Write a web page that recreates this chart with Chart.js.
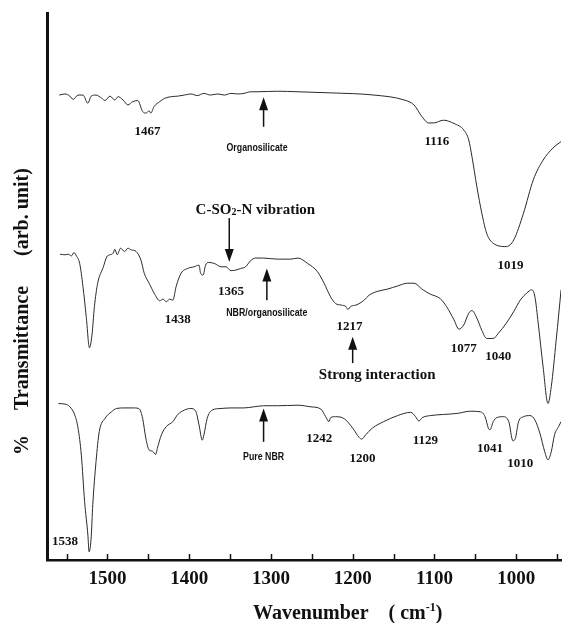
<!DOCTYPE html>
<html>
<head>
<meta charset="utf-8">
<script src="https://cdn.jsdelivr.net/npm/chart.js@4.4.1/dist/chart.umd.min.js"></script>
<style>
  html, body { margin: 0; padding: 0; background: #fff; }
</style>
</head>
<body>
<canvas id="ftir" width="565" height="623"></canvas>
<script>
// FTIR spectra, wavenumber (cm-1) vs transmittance (arb. unit, curves offset)
const organoWave = [1559, 1552, 1546, 1542, 1536, 1530, 1524, 1520, 1514, 1507, 1503, 1497, 1491, 1487, 1481, 1475, 1469, 1463, 1457, 1453, 1449, 1447, 1443, 1436, 1430, 1422, 1414, 1406, 1398, 1390, 1382, 1374, 1365, 1357, 1349, 1341, 1333, 1325, 1317, 1292, 1267, 1227, 1174, 1137, 1125, 1115, 1107, 1101, 1089, 1076, 1064, 1058, 1054, 1048, 1042, 1036, 1028, 1012, 1003, 991, 979, 967, 955, 945];
const organoT = [85.0, 85.2, 84.8, 84.2, 85.0, 85.0, 83.5, 84.8, 85.0, 84.4, 84.0, 84.8, 84.1, 84.7, 84.1, 83.2, 83.8, 84.0, 82.0, 81.7, 82.1, 81.7, 82.9, 83.8, 84.4, 84.7, 84.8, 85.0, 85.2, 84.9, 85.3, 85.0, 85.2, 85.0, 85.3, 85.2, 85.3, 85.6, 85.6, 85.7, 85.6, 85.4, 85.0, 84.1, 83.2, 81.0, 79.9, 79.9, 80.4, 79.8, 78.6, 76.8, 73.7, 68.2, 63.4, 59.7, 57.9, 57.3, 58.5, 63.4, 69.5, 73.1, 75.3, 76.5];

const blendWave = [1558, 1552, 1548, 1544, 1541, 1538, 1534, 1530, 1526, 1522, 1519, 1516, 1512, 1505, 1501, 1497, 1493, 1491, 1488, 1484, 1479, 1475, 1471, 1465, 1459, 1455, 1449, 1443, 1436, 1432, 1428, 1424, 1420, 1416, 1410, 1402, 1394, 1388, 1386, 1383, 1380, 1376, 1369, 1361, 1355, 1349, 1343, 1337, 1331, 1325, 1319, 1309, 1292, 1276, 1267, 1255, 1243, 1235, 1227, 1221, 1214, 1208, 1206, 1202, 1196, 1186, 1180, 1170, 1158, 1145, 1133, 1125, 1115, 1105, 1093, 1085, 1076, 1070, 1064, 1058, 1054, 1048, 1042, 1036, 1028, 1022, 1012, 1003, 995, 987, 981, 977, 973, 967, 961, 957, 951, 945];
const blendT = [55.9, 55.8, 55.9, 55.6, 56.2, 55.6, 54.2, 50.0, 44.5, 38.8, 41.1, 46.3, 50.6, 53.6, 55.4, 55.8, 56.1, 56.8, 55.8, 57.0, 56.4, 57.0, 56.7, 56.4, 54.8, 52.4, 50.6, 48.8, 47.4, 47.7, 47.2, 47.7, 47.5, 50.0, 52.4, 53.3, 53.6, 53.9, 52.4, 52.1, 53.9, 54.4, 54.2, 53.6, 53.6, 52.9, 53.0, 53.3, 53.6, 54.7, 55.2, 55.2, 55.0, 55.0, 55.2, 54.2, 52.7, 50.6, 48.1, 46.9, 46.6, 46.3, 45.8, 46.4, 46.6, 47.5, 48.4, 49.1, 49.5, 50.1, 50.6, 50.6, 49.5, 48.6, 47.8, 46.3, 43.9, 42.2, 43.0, 45.1, 45.6, 44.2, 42.0, 40.5, 40.5, 41.4, 43.3, 45.4, 47.5, 48.8, 49.4, 48.1, 43.3, 35.3, 28.6, 31.7, 40.2, 49.4];

const nbrWave = [1560, 1552, 1546, 1540, 1536, 1532, 1528, 1524, 1522.5, 1520, 1518, 1514, 1510, 1503, 1495, 1489, 1479, 1467, 1461, 1457, 1453, 1449, 1445, 1441, 1439, 1434, 1428, 1420, 1414, 1406, 1398, 1392, 1388, 1384, 1382, 1378, 1372, 1361, 1349, 1333, 1321, 1309, 1292, 1267, 1251, 1239, 1233, 1229, 1227, 1221, 1210, 1200, 1192, 1189, 1184, 1176, 1162, 1145, 1129, 1123, 1119, 1115, 1105, 1089, 1072, 1056, 1044, 1038, 1034, 1032, 1028, 1024, 1016, 1009, 1004, 1001, 997, 991, 983, 977, 971, 965, 961, 957, 953, 948, 945];
const nbrT = [28.6, 28.5, 28.0, 26.5, 24.1, 19.2, 10.7, 4.6, 1.5, 4.0, 10.1, 18.0, 23.5, 25.9, 27.1, 27.7, 27.8, 27.8, 27.6, 25.9, 22.2, 20.1, 19.9, 19.3, 20.4, 22.9, 24.4, 25.3, 26.6, 27.4, 27.7, 27.2, 24.7, 21.9, 22.9, 25.9, 27.4, 27.7, 27.8, 27.8, 28.0, 28.2, 28.2, 28.3, 28.0, 27.6, 26.2, 25.3, 26.0, 26.2, 25.8, 24.1, 22.4, 22.1, 22.9, 24.1, 25.3, 26.4, 27.0, 26.2, 25.4, 26.0, 26.4, 26.6, 26.8, 27.2, 27.1, 26.2, 24.1, 23.8, 25.3, 26.0, 26.2, 25.3, 21.8, 22.2, 25.3, 26.2, 26.4, 25.6, 23.2, 19.8, 18.3, 19.8, 22.9, 24.4, 25.3];

// peak numbers written next to the curves
const peakText = ['1467', '1116', '1019', '1438', '1365', '1217', '1077', '1040', '1538', '1242', '1200', '1129', '1041', '1010'];
const peakWave = [1451, 1097, 1007, 1414, 1349, 1204, 1064, 1022, 1552, 1241, 1188, 1111, 1032, 995];
const peakT = [78.3, 76.5, 53.9, 43.9, 49.1, 42.7, 38.7, 37.2, 3.3, 22.2, 18.6, 21.8, 20.4, 17.7];

// sample names
const sampleText = ['Organosilicate', 'NBR/organosilicate', 'Pure NBR'];
const sampleWave = [1317, 1305, 1309];
const sampleT = [75.3, 45.1, 18.9];

// arrows: tail -> head
const arrowWave = [1309, 1351, 1305, 1200, 1309];
const arrowFrom = [79.2, 62.5, 47.5, 36.0, 21.6];
const arrowTo = [84.6, 54.5, 53.3, 40.8, 27.7];

// larger notes
const noteWave = [1319, 1170];
const noteT = [64.0, 33.8];

const serif = '"Liberation Serif", "Times New Roman", serif';
const sans = '"Liberation Sans", Arial, sans-serif';

const pts = (w, t) => w.map((v, i) => ({ x: v, y: t[i] }));

// draws pieces of text (normal / sub / superscript) one after another
function richText(ctx, parts, x, y, align) {
	let total = 0;
	parts.forEach(p => {
		ctx.font = 'bold ' + p[1] + 'px ' + serif;
		total += ctx.measureText(p[0]).width;
	});
	let cx = align === 'center' ? x - total / 2 : x;
	ctx.textAlign = 'left';
	parts.forEach(p => {
		ctx.font = 'bold ' + p[1] + 'px ' + serif;
		ctx.fillText(p[0], cx, y + p[2]);
		cx += ctx.measureText(p[0]).width;
	});
}

const annotate = {
	id: 'annotate',
	afterDraw(chart) {
		const { ctx, chartArea: area, scales: { x, y } } = chart;
		ctx.save();
		ctx.fillStyle = '#111';
		ctx.strokeStyle = '#111';

		// ticks pointing into the plot
		ctx.lineWidth = 1.5;
		x.ticks.forEach(t => {
			const px = Math.round(x.getPixelForValue(t.value)) + 0.5;
			ctx.beginPath();
			ctx.moveTo(px, area.bottom);
			ctx.lineTo(px, area.bottom - 6);
			ctx.stroke();
		});

		ctx.textAlign = 'center';
		ctx.textBaseline = 'middle';
		ctx.font = 'bold 13px ' + serif;
		peakText.forEach((s, i) => {
			ctx.fillText(s, x.getPixelForValue(peakWave[i]), y.getPixelForValue(peakT[i]));
		});

		ctx.font = 'bold 11px ' + sans;
		sampleText.forEach((s, i) => {
			ctx.save();
			ctx.translate(x.getPixelForValue(sampleWave[i]), y.getPixelForValue(sampleT[i]));
			ctx.scale(0.8, 1);
			ctx.fillText(s, 0, 0);
			ctx.restore();
		});

		arrowWave.forEach((w, i) => {
			const px = x.getPixelForValue(w);
			const y0 = y.getPixelForValue(arrowFrom[i]);
			const y1 = y.getPixelForValue(arrowTo[i]);
			const dir = y1 < y0 ? -1 : 1;
			ctx.lineWidth = 1.5;
			ctx.beginPath();
			ctx.moveTo(px, y0);
			ctx.lineTo(px, y1 - dir * 10);
			ctx.stroke();
			ctx.beginPath();
			ctx.moveTo(px, y1);
			ctx.lineTo(px - 4.5, y1 - dir * 13);
			ctx.lineTo(px + 4.5, y1 - dir * 13);
			ctx.closePath();
			ctx.fill();
		});

		richText(ctx, [['C-SO', 15, 0], ['2', 10, 3], ['-N vibration', 15, 0]],
			x.getPixelForValue(noteWave[0]), y.getPixelForValue(noteT[0]), 'center');
		richText(ctx, [['Strong interaction', 15, 0]],
			x.getPixelForValue(noteWave[1]), y.getPixelForValue(noteT[1]), 'center');

		// axis titles
		ctx.textBaseline = 'alphabetic';
		richText(ctx, [['Wavenumber    ( cm', 20, 0], ['-1', 12, -8], [')', 20, 0]], 253, 619, 'left');

		ctx.save();
		ctx.rotate(-Math.PI / 2);
		ctx.font = 'bold 20px ' + serif;
		ctx.textAlign = 'left';
		ctx.fillText('%     Transmittance      (arb. unit)', -455, 28);
		ctx.restore();

		ctx.restore();
	}
};

const lineStyle = {
	borderColor: '#2a2a2a',
	borderWidth: 1,
	pointRadius: 0,
	fill: false,
	cubicInterpolationMode: 'monotone',
};

new Chart(document.getElementById('ftir'), {
	type: 'line',
	data: {
		datasets: [
			{ label: 'Organosilicate', data: pts(organoWave, organoT), ...lineStyle },
			{ label: 'NBR/organosilicate', data: pts(blendWave, blendT), ...lineStyle },
			{ label: 'Pure NBR', data: pts(nbrWave, nbrT), ...lineStyle },
		],
	},
	options: {
		responsive: false,
		animation: false,
		layout: { padding: { left: 47, top: 13, right: 0, bottom: 0 } },
		plugins: {
			legend: { display: false },
			tooltip: { enabled: false },
		},
		scales: {
			x: {
				type: 'linear',
				reverse: true,
				min: 945,
				max: 1574,
				ticks: {
					stepSize: 50,
					includeBounds: false,
					autoSkip: false,
					maxRotation: 0,
					padding: 8,
					color: '#111',
					font: { family: serif, size: 19, weight: 'bold' },
					callback: v => (v % 100 === 0 ? String(v) : ''),
				},
				grid: { display: true, drawOnChartArea: false, drawTicks: false },
				border: { display: true, color: '#111', width: 2.5 },
				afterFit: s => { s.height = 63; },
			},
			y: {
				min: 0,
				max: 100,
				ticks: { display: false },
				grid: { display: true, drawOnChartArea: false, drawTicks: false },
				border: { display: true, color: '#111', width: 3 },
				afterFit: s => { s.width = 0; },
			},
		},
	},
	plugins: [annotate],
});
</script>
</body>
</html>
